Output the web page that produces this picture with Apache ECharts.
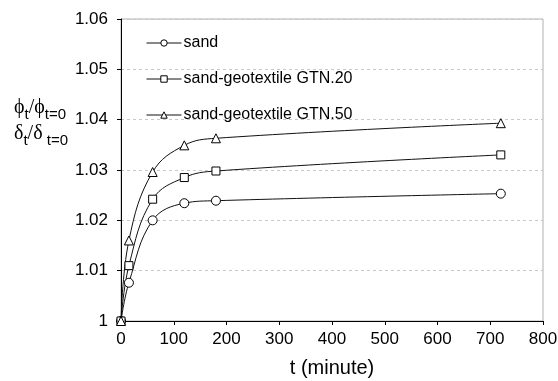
<!DOCTYPE html>
<html>
<head>
<meta charset="utf-8">
<script src="https://cdn.jsdelivr.net/npm/echarts@6/dist/echarts.min.js"></script>
<style>
  html, body { margin: 0; padding: 0; background: #fff; }
  #chart { width: 558px; height: 381px; }
</style>
</head>
<body>
<div id="chart"></div>
<script>
// time in minutes
const times = [0, 15, 60, 120, 180, 720]
const sand = [1, 1.0076, 1.0200, 1.0234, 1.0239, 1.0253]
const gtn20 = [1, 1.0110, 1.0242, 1.0285, 1.0298, 1.0330]
const gtn50 = [1, 1.0160, 1.0296, 1.0349, 1.0363, 1.0393]
const seriesNames = ['sand', 'sand-geotextile GTN.20', 'sand-geotextile GTN.50']
const symbols = ['circle', 'rect', 'triangle']

const font = 'Liberation Sans, Arial, sans-serif'
const serif = 'Liberation Serif, DejaVu Serif, serif'

const makeSeries = (name, values, symbol) => {
  return {
    name: name,
    type: 'line',
    smooth: 0.4,
    symbol: symbol,
    symbolSize: symbol === 'rect' ? 8 : 9,
    data: times.map((t, i) => [t, values[i]]),
    lineStyle: { color: '#111', width: 1 },
    itemStyle: { color: '#fff', borderColor: '#000', borderWidth: 1 },
    emphasis: { disabled: true }
  }
}

const richStyles = {
  a: { fontFamily: serif, fontSize: 20, color: '#000', verticalAlign: 'bottom', lineHeight: 22 },
  s: { fontFamily: font, fontSize: 15, color: '#000', verticalAlign: 'bottom', lineHeight: 22, padding: [0, 0, -4, 0] }
}

const myChart = echarts.init(document.getElementById('chart'))
const option = {
  animation: false,
  textStyle: { fontFamily: font },
  grid: {
    left: 121, right: 15, top: 19, bottom: 60,
    outerBoundsMode: 'none',
    show: true, borderColor: '#b0b0b0', borderWidth: 1
  },
  legend: {
    orient: 'vertical',
    left: 141,
    top: 30,
    itemWidth: 35,
    itemHeight: 8,
    itemGap: 20,
    data: seriesNames,
    lineStyle: { width: 1, color: '#111' },
    itemStyle: { borderWidth: 1, borderColor: '#000', color: '#fff' },
    textStyle: { fontFamily: font, fontSize: 16, color: '#000', padding: [0, 0, 0, -3] }
  },
  xAxis: {
    type: 'value',
    min: 0,
    max: 800,
    interval: 100,
    axisLine: { lineStyle: { color: '#000' } },
    axisTick: { inside: false, length: 4, lineStyle: { color: '#000' } },
    axisLabel: { fontFamily: font, fontSize: 17, color: '#000', margin: 10 },
    splitLine: { show: false },
    name: 't (minute)',
    nameLocation: 'middle',
    nameGap: 37,
    nameTextStyle: { fontFamily: font, fontSize: 20, color: '#000' }
  },
  yAxis: {
    type: 'value',
    min: 1,
    max: 1.06,
    interval: 0.01,
    axisLine: { show: true, lineStyle: { color: '#000' } },
    axisTick: { show: true, length: 4, lineStyle: { color: '#000' } },
    axisLabel: {
      fontFamily: font, fontSize: 17, color: '#000', margin: 13,
      formatter: (v) => Math.abs(v - 1) < 1e-9 ? '1' : v.toFixed(2)
    },
    splitLine: { show: true, showMinLine: false, lineStyle: { color: '#c8c8c8', type: [3, 3] } }
  },
  graphic: [
    {
      type: 'text',
      left: 14,
      top: 98,
      style: { text: '{a|ϕ}{s|t}{a|/ϕ}{s|t=0}', rich: richStyles }
    },
    {
      type: 'text',
      left: 14,
      top: 124,
      style: { text: '{a|δ}{s|t}{a|/δ}{s| t=0}', rich: richStyles }
    }
  ],
  series: [
    makeSeries(seriesNames[0], sand, symbols[0]),
    makeSeries(seriesNames[1], gtn20, symbols[1]),
    makeSeries(seriesNames[2], gtn50, symbols[2])
  ]
}
option && myChart.setOption(option)
</script>
</body>
</html>
